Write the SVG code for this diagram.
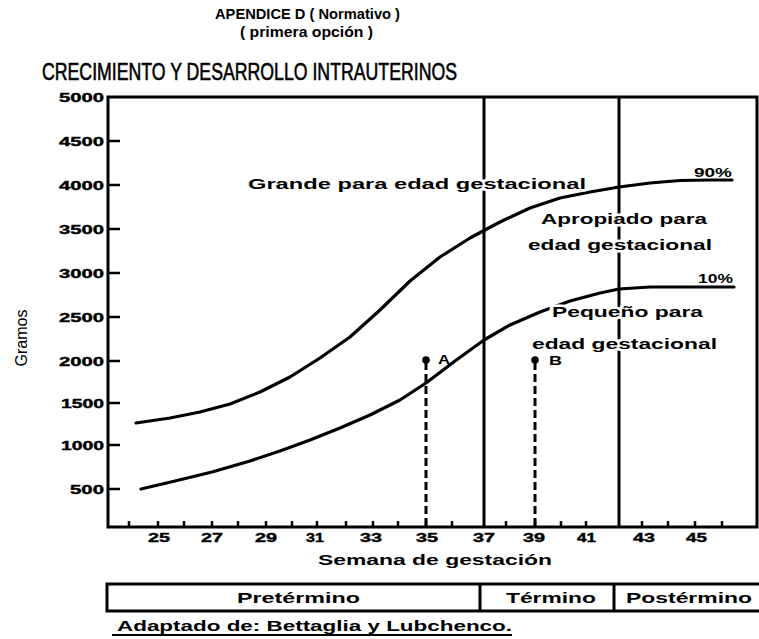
<svg xmlns="http://www.w3.org/2000/svg" width="759" height="639" viewBox="0 0 759 639">
<style>
text{font-family:"Liberation Sans",Arial,sans-serif;fill:#000}
.b{font-weight:bold}
.ax{font-size:13px;font-weight:bold;stroke:#000;stroke-width:0.4}
.lbl{font-size:15px;font-weight:bold;stroke:#fff;stroke-width:5;stroke-linejoin:round;paint-order:stroke}
.ln{fill:none;stroke:#000;stroke-width:3}
.tk{fill:none;stroke:#000;stroke-width:2.5}
.cv{fill:none;stroke:#000;stroke-width:3.2;stroke-linejoin:round;stroke-linecap:round}
.ds{fill:none;stroke:#000;stroke-width:3;stroke-dasharray:8 4}
</style>
<rect width="759" height="639" fill="#fff"/>
<g id="titles">
<text class="b" x="215" y="19" font-size="14" textLength="185" lengthAdjust="spacingAndGlyphs">APENDICE D ( Normativo )</text>
<text class="b" x="240" y="37" font-size="14" textLength="133" lengthAdjust="spacingAndGlyphs">( primera opción )</text>
<text x="42" y="80" font-size="24" stroke="#000" stroke-width="0.6" textLength="415" lengthAdjust="spacingAndGlyphs">CRECIMIENTO Y DESARROLLO INTRAUTERINOS</text>
</g>
<g id="axes">
<path class="ln" d="M108,97 H757 V527 H108 Z"/>
<path class="tk" d="M108,141 H120 M108,185 H120 M108,229 H120 M108,273 H120 M108,317 H120 M108,361 H120 M108,403 H120 M108,445 H120 M108,489 H120"/>
<path class="tk" d="M129,527 V521 M158,527 V521 M184,527 V521 M212,527 V521 M238,527 V521 M266,527 V521 M292,527 V521 M317,527 V521 M346,527 V521 M373,527 V521 M398,527 V521 M426,527 V521 M452,527 V521 M506,527 V521 M535,527 V521 M561,527 V521 M586,527 V521 M642,527 V521 M668,527 V521 M695,527 V521 M722,527 V521"/>
<g class="ax">
<text x="59" y="102" textLength="45" lengthAdjust="spacingAndGlyphs">5000</text>
<text x="59" y="146" textLength="45" lengthAdjust="spacingAndGlyphs">4500</text>
<text x="59" y="190" textLength="45" lengthAdjust="spacingAndGlyphs">4000</text>
<text x="59" y="234" textLength="45" lengthAdjust="spacingAndGlyphs">3500</text>
<text x="59" y="278" textLength="45" lengthAdjust="spacingAndGlyphs">3000</text>
<text x="59" y="322" textLength="45" lengthAdjust="spacingAndGlyphs">2500</text>
<text x="59" y="366" textLength="45" lengthAdjust="spacingAndGlyphs">2000</text>
<text x="61" y="408" textLength="43" lengthAdjust="spacingAndGlyphs">1500</text>
<text x="61" y="450" textLength="43" lengthAdjust="spacingAndGlyphs">1000</text>
<text x="70" y="494" textLength="34" lengthAdjust="spacingAndGlyphs">500</text>
</g>
<g class="ax">
<text x="148" y="542" textLength="22" lengthAdjust="spacingAndGlyphs">25</text>
<text x="201" y="542" textLength="22" lengthAdjust="spacingAndGlyphs">27</text>
<text x="255" y="542" textLength="22" lengthAdjust="spacingAndGlyphs">29</text>
<text x="306" y="542" textLength="18" lengthAdjust="spacingAndGlyphs">31</text>
<text x="360" y="542" textLength="22" lengthAdjust="spacingAndGlyphs">33</text>
<text x="416" y="542" textLength="22" lengthAdjust="spacingAndGlyphs">35</text>
<text x="473" y="542" textLength="22" lengthAdjust="spacingAndGlyphs">37</text>
<text x="523" y="542" textLength="22" lengthAdjust="spacingAndGlyphs">39</text>
<text x="577" y="542" textLength="19" lengthAdjust="spacingAndGlyphs">41</text>
<text x="633" y="542" textLength="22" lengthAdjust="spacingAndGlyphs">43</text>
<text x="686" y="542" textLength="21" lengthAdjust="spacingAndGlyphs">45</text>
</g>
<text class="b" x="318" y="565" font-size="15" textLength="234" lengthAdjust="spacingAndGlyphs">Semana de gestación</text>
<text transform="translate(27,338) rotate(-90)" text-anchor="middle" font-size="16" textLength="57" lengthAdjust="spacingAndGlyphs">Gramos</text>
</g>
<g id="connectors">
<path class="ln" d="M484,97 V527 M619,97 V527"/>
<path id="p90" class="cv" d="M136,423 L170,418 L200,412 L230,404 L260,392 L290,377 L320,358 L350,337 L380,310 L410,281 L440,257 L470,238 L500,222 L530,208 L560,198 L590,192 L619,187 L650,183 L680,180.5 L710,180 L732,180"/>
<path id="p10" class="cv" d="M141,489 L175,481 L212,472 L250,461 L280,451 L310,440 L340,428 L370,415 L400,400 L426,383 L455,361 L484,340 L510,325 L540,312 L570,301 L600,293 L619,289 L650,287 L690,287 L734,287"/>
<path class="ds" d="M426,362 V527 M535,362 V527"/>
</g>
<g id="pointA">
<circle cx="426" cy="360" r="3.8"/>
<text class="b" x="438" y="364" font-size="13" textLength="12" lengthAdjust="spacingAndGlyphs">A</text>
</g>
<g id="pointB">
<circle cx="535" cy="360" r="3.8"/>
<text class="b" x="549" y="365" font-size="12" textLength="13" lengthAdjust="spacingAndGlyphs">B</text>
</g>
<g id="labels">
<text class="lbl" x="248" y="189" font-size="16" textLength="338" lengthAdjust="spacingAndGlyphs">Grande para edad gestacional</text>
<text class="lbl" x="541" y="224" textLength="166" lengthAdjust="spacingAndGlyphs">Apropiado para</text>
<text class="lbl" x="528" y="250" textLength="184" lengthAdjust="spacingAndGlyphs">edad gestacional</text>
<text class="lbl" x="552" y="317" textLength="151" lengthAdjust="spacingAndGlyphs">Pequeño para</text>
<text class="lbl" x="532" y="349" textLength="185" lengthAdjust="spacingAndGlyphs">edad gestacional</text>
<text class="b" x="694" y="177" font-size="12" textLength="38" lengthAdjust="spacingAndGlyphs">90%</text>
<text class="b" x="698" y="283" font-size="12" textLength="35" lengthAdjust="spacingAndGlyphs">10%</text>
</g>
<g id="table">
<path class="ln" d="M759,584 H107 V611 H759 M480,584 V611 M614,584 V611"/>
<text class="b" x="237" y="603" font-size="15" textLength="123" lengthAdjust="spacingAndGlyphs">Pretérmino</text>
<text class="b" x="506" y="603" font-size="15" textLength="90" lengthAdjust="spacingAndGlyphs">Término</text>
<text class="b" x="626" y="603" font-size="15" textLength="126" lengthAdjust="spacingAndGlyphs">Postérmino</text>
</g>
<g id="source">
<text class="b" x="117" y="631" font-size="14" textLength="395" lengthAdjust="spacingAndGlyphs">Adaptado de: Bettaglia y Lubchenco.</text>
<path d="M112,635 H512" stroke="#000" stroke-width="2"/>
</g>
</svg>
